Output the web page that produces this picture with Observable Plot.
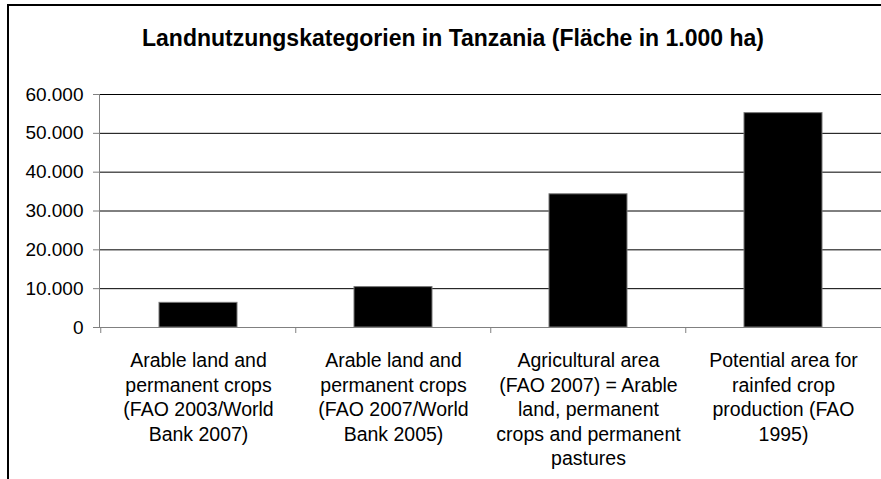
<!DOCTYPE html>
<html>
<head>
<meta charset="utf-8">
<script src="https://cdn.jsdelivr.net/npm/d3@7"></script>
<script src="https://cdn.jsdelivr.net/npm/@observablehq/plot@0.6"></script>
<style>
  html, body { margin: 0; padding: 0; background: #fff; overflow: hidden; }
  #wrap { position: relative; width: 881px; height: 479px; font-family: "Liberation Sans", Arial, sans-serif; }
  #border { position: absolute; left: 7px; top: 4px; width: 900px; height: 500px; border-left: 2px solid #000; border-top: 2px solid #000; box-sizing: border-box; }
  #title { position: absolute; left: 0; width: 906px; top: 27px; text-align: center; font-weight: bold; font-size: 23px; line-height: 23px; color: #000; }
  #chart { position: absolute; left: 0; top: 0; }
</style>
</head>
<body>
<div id="wrap">
  <div id="border"></div>
  <div id="chart"></div>
  <div id="title">Landnutzungskategorien in Tanzania (Fläche in 1.000 ha)</div>
</div>
<script>
const categories = [
  "Arable land and\npermanent crops\n(FAO 2003/World\nBank 2007)",
  "Arable land and\npermanent crops\n(FAO 2007/World\nBank 2005)",
  "Agricultural area\n(FAO 2007) = Arable\nland, permanent\ncrops and permanent\npastures",
  "Potential area for\nrainfed crop\nproduction (FAO\n1995)"
];
const values = [6350, 10400, 34300, 55200];
const yTicks = [0, 10000, 20000, 30000, 40000, 50000, 60000];

const data = categories.map((c, i) => ({category: c, value: values[i]}));
const de = d3.formatLocale({decimal: ",", thousands: ".", grouping: [3], currency: ["", " €"]});
const fmt = de.format(",d");

const W = 881, H = 479, mL = 99, mR = 0, mT = 94, mB = 152;
const step = (W - mL - mR) / categories.length;

const chart = Plot.plot({
  width: W, height: H,
  marginLeft: mL, marginRight: mR, marginTop: mT, marginBottom: mB,
  style: {fontFamily: "'Liberation Sans', Arial, sans-serif", fontSize: "19px", color: "#000", background: "transparent", overflow: "visible"},
  x: {domain: categories, paddingInner: 0.6, paddingOuter: 0.3, axis: null, label: null},
  y: {domain: [0, 60000], axis: null, label: null},
  marks: [
    Plot.gridY(yTicks.filter(v => v > 0), {stroke: "#000", strokeOpacity: 1}),
    Plot.barY(data, {x: "category", y: "value", fill: "#000", stroke: "#777", strokeWidth: 1}),
    Plot.ruleY([0], {stroke: "#808080"}),
    Plot.frame({anchor: "left", stroke: "#808080"}),
    Plot.axisY(yTicks, {tickSize: 6, tickPadding: 10, tickFormat: fmt, stroke: "#808080", fill: "#000", fontSize: 19, label: null}),
    Plot.axisX(categories, {tickSize: 6, tickFormat: () => "", stroke: "#808080", dx: -step / 2, label: null}),
    Plot.text(categories, {x: d => d, text: d => d, frameAnchor: "bottom", lineAnchor: "top", dy: 22, fontSize: 19.5, lineHeight: 1.26, fill: "#000"})
  ]
});
document.getElementById("chart").appendChild(chart);
</script>
</body>
</html>
